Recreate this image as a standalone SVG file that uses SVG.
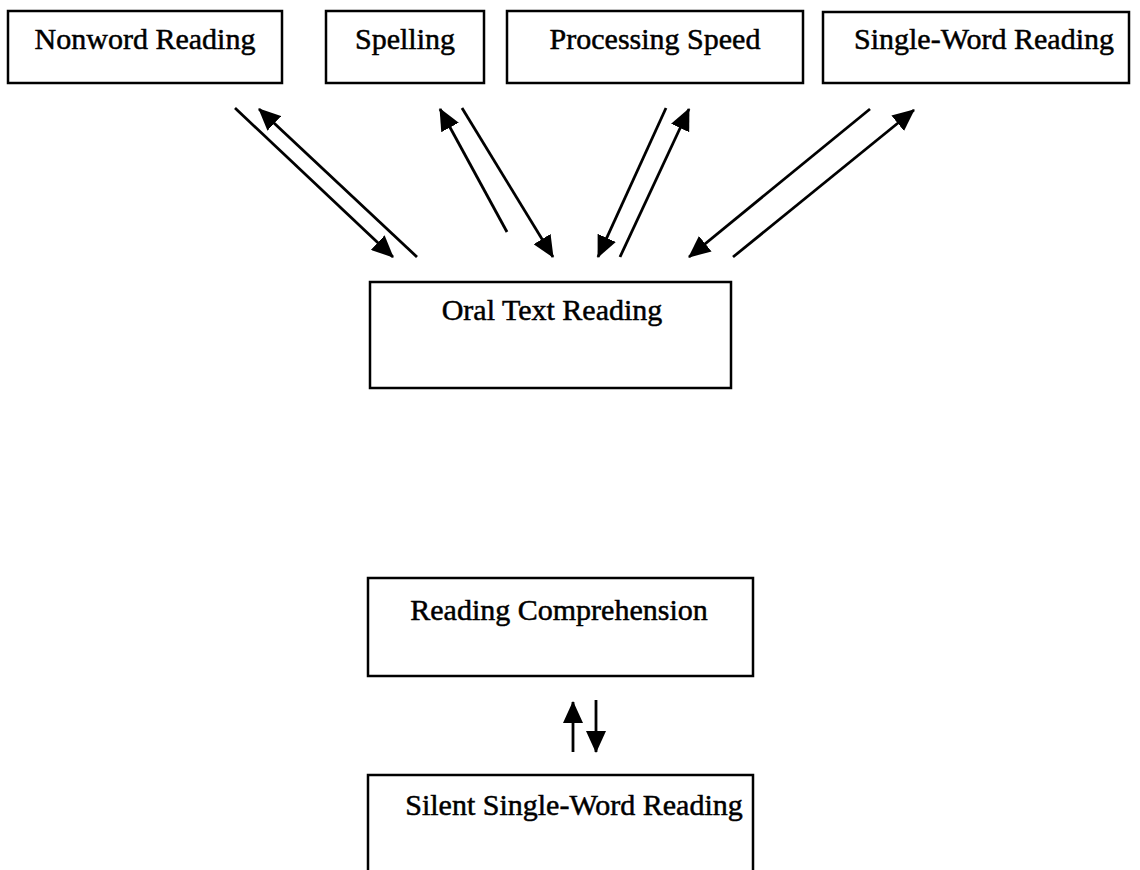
<svg xmlns="http://www.w3.org/2000/svg" width="1140" height="870" viewBox="0 0 1140 870">
<style>
.box{fill:#fff;stroke:#000;stroke-width:2.5}
.lbl{font-family:"Liberation Serif","Times New Roman",serif;font-size:30px;fill:#000;stroke:#000;stroke-width:0.5;text-anchor:middle}
.arr{stroke:#000;stroke-width:2.8;fill:none;marker-end:url(#ah)}
</style>
<defs>
<marker id="ah" viewBox="0 0 22 20" refX="21" refY="10" markerWidth="22" markerHeight="20" markerUnits="userSpaceOnUse" orient="auto">
<path d="M0,0 L22,10 L0,20 Z" fill="#000"/>
</marker>
</defs>
<rect width="1140" height="870" fill="#fff"/>
<g id="nonword"><rect class="box" x="8" y="11" width="274" height="72"/><text class="lbl" x="145" y="49">Nonword Reading</text></g>
<g id="spelling"><rect class="box" x="326" y="11" width="158" height="72"/><text class="lbl" x="405" y="49">Spelling</text></g>
<g id="speed"><rect class="box" x="507" y="11" width="296" height="72"/><text class="lbl" x="655" y="49">Processing Speed</text></g>
<g id="singleword"><rect class="box" x="823" y="12" width="306" height="71"/><text class="lbl" x="984" y="49">Single-Word Reading</text></g>
<g id="oral"><rect class="box" x="370" y="282" width="361" height="106"/><text class="lbl" x="552" y="320">Oral Text Reading</text></g>
<g id="comprehension"><rect class="box" x="368" y="578" width="385" height="98"/><text class="lbl" x="559" y="620">Reading Comprehension</text></g>
<g id="silent"><path class="box" fill="none" d="M368,880 V775 H753 V880"/><text class="lbl" x="574" y="815">Silent Single-Word Reading</text></g>
<g id="connectors">
<line class="arr" x1="235" y1="108" x2="393" y2="257"/>
<line class="arr" x1="417" y1="257" x2="259" y2="109"/>
<line class="arr" x1="507" y1="232" x2="440" y2="109"/>
<line class="arr" x1="462" y1="108" x2="553" y2="257"/>
<line class="arr" x1="666" y1="108" x2="598" y2="257"/>
<line class="arr" x1="620" y1="257" x2="689" y2="109"/>
<line class="arr" x1="870" y1="109" x2="689" y2="257"/>
<line class="arr" x1="733" y1="257" x2="914" y2="110"/>
<line class="arr" x1="573" y1="752" x2="573" y2="702"/>
<line class="arr" x1="596" y1="700" x2="596" y2="752"/>
</g>
</svg>
